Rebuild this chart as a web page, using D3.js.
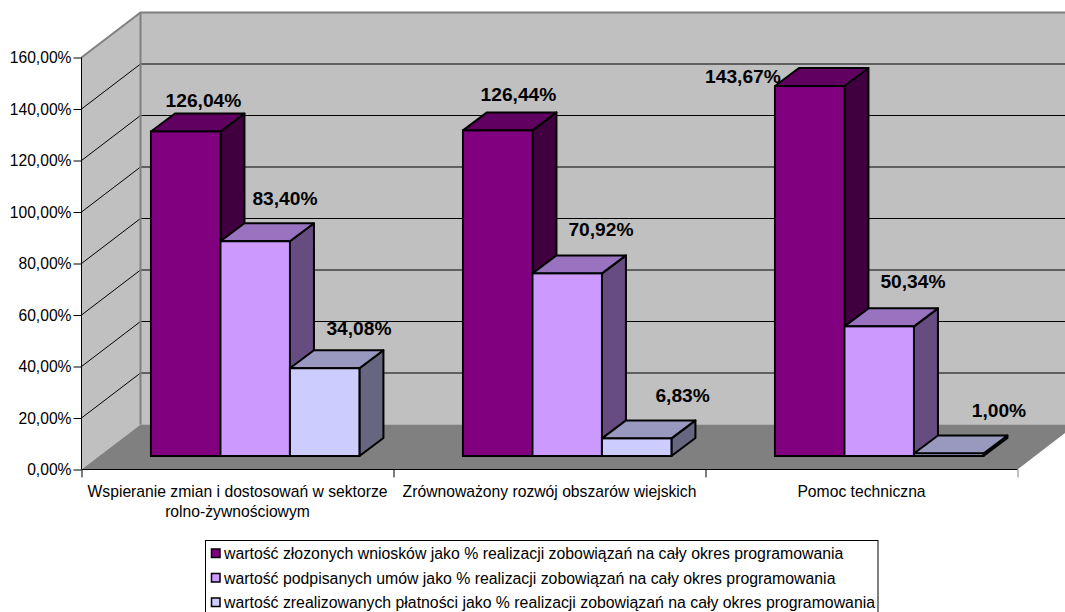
<!DOCTYPE html>
<html><head><meta charset="utf-8">
<script src="https://cdn.jsdelivr.net/npm/d3@7/dist/d3.min.js"></script>
<style>html,body{margin:0;padding:0;background:#fff;overflow:hidden}svg{display:block}text{font-family:"Liberation Sans",Arial,sans-serif;fill:#000}</style>
</head><body><svg id="c" width="1065" height="612"></svg>
<script>
const categories=["Wspieranie zmian i dostosowań w sektorze|rolno-żywnościowym","Zrównoważony rozwój obszarów wiejskich","Pomoc techniczna"];
const seriesNames=["wartość złozonych wniosków jako % realizacji zobowiązań na cały okres programowania","wartość podpisanych umów jako % realizacji zobowiązań na cały okres programowania","wartość zrealizowanych płatności jako % realizacji zobowiązań na cały okres programowania"];
const s1=[126.04,126.44,143.67];
const s2=[83.40,70.92,50.34];
const s3=[34.08,6.83,1.00];
const yTicks=[0,20,40,60,80,100,120,140,160];
const colors=["#800080","#CC99FF","#CCCCFF"];
const tops=["#600060","#9973BF","#9999BF"];
const sides=["#400040","#664C80","#666680"];
const series=[s1,s2,s3];
const fmt=v=>v.toFixed(2).replace(".",",")+"%";

const svg=d3.select("#c");
const x=d3.scaleBand().domain(d3.range(3)).range([81.5,1017.5]);
const y=d3.scaleLinear().domain([0,160]).range([469.5,57.5]);
const DX=59,DY=-45,bdx=24,bdy=-18,barBase=-13.5,barShift=17.7;
const inner=d3.scaleBand().domain(d3.range(3)).range([0,x.bandwidth()]).paddingInner(0).paddingOuter(0.745);
const W=1076;
const poly=(pts,f,st,sw)=>svg.append("polygon").attr("points",pts.map(p=>p.join(",")).join(" ")).attr("fill",f).attr("stroke",st||"none").attr("stroke-width",sw||0).attr("stroke-linejoin","round");

// walls and floor
const y0=y(0),yT=y(160),ax=x.range()[0];
poly([[ax,y0],[ax+DX,y0+DY],[ax+DX,yT+DY],[ax,yT]],"#C0C0C0");
poly([[ax+DX,y0+DY],[W,y0+DY],[W,yT+DY],[ax+DX,yT+DY]],"#C0C0C0");
poly([[ax,y0],[ax+DX,y0+DY],[W,y0+DY],[x.range()[1],y0]],"#808080");
// gridlines
yTicks.slice(1,-1).forEach(t=>{
  svg.append("path").attr("fill","none").attr("stroke","#000").attr("stroke-width",1)
   .attr("d",`M${ax},${y(t)}L${ax+DX},${y(t)+DY}L${W},${y(t)+DY}`);
});
// wall edges
svg.append("path").attr("fill","none").attr("stroke","#808080").attr("stroke-width",2)
 .attr("d",`M${ax},${yT}L${ax+DX},${yT+DY}L${W},${yT+DY}M${ax+DX},${yT+DY}L${ax+DX},${y0+DY}`);
// axes
svg.append("g").attr("transform",`translate(${ax},0)`)
 .call(d3.axisLeft(y).tickValues(yTicks).tickFormat(fmt).tickSize(8).tickPadding(2))
 .call(g=>{g.select(".domain").attr("stroke","#000").attr("d",`M0,${yT}V${y0}`);g.selectAll("line").attr("stroke","#000");g.selectAll("text").attr("font-size",15.65).attr("font-family",'"Liberation Sans"').attr("fill","#000")});
svg.append("g").attr("transform",`translate(0,${y0})`)
 .call(d3.axisBottom(d3.scaleLinear().domain([0,3]).range(x.range())).tickValues([0,1,2,3]).tickFormat("").tickSize(8))
 .call(g=>{g.select(".domain").attr("stroke","#000").attr("d",`M${ax},0H${x.range()[1]}`);g.selectAll("line").attr("stroke","#000");g.selectAll(".tick:last-of-type line").attr("stroke","#808080")});
// category labels
categories.forEach((c,i)=>{
  c.split("|").forEach((ln,k)=>svg.append("text").attr("x",x(i)+x.bandwidth()/2).attr("y",496.7+k*20).attr("text-anchor","middle").attr("font-size",15.7).text(ln));
});
// bars
categories.forEach((c,i)=>{
  series.forEach((s,j)=>{
    const bx=x(i)+barShift+inner(j), bw=inner.bandwidth(), v=s[i];
    const yb=y0+barBase, yt=y(v)+barBase;
    poly([[bx+bw,yt],[bx+bw+bdx,yt+bdy],[bx+bw+bdx,yb+bdy],[bx+bw,yb]],sides[j],"#000",2);
    poly([[bx,yt],[bx+bdx,yt+bdy],[bx+bw+bdx,yt+bdy],[bx+bw,yt]],tops[j],"#000",2);
    svg.append("rect").attr("x",bx).attr("y",yt).attr("width",bw).attr("height",yb-yt).attr("fill",colors[j]).attr("stroke","#000").attr("stroke-width",2);
  });
});
// value labels: placement offsets from each bar's top-left corner, by series then category
const labelDx=[[52.5,55.5,-32],[64.5,68.5,68.5],[69,80.7,85]];
const labelDy=[[-24.5,-29,-3],[-36.5,-37,-38],[-33.5,-36,-36.7]];
categories.forEach((c,i)=>{
  series.forEach((s,j)=>{
    const bx=x(i)+barShift+inner(j);
    svg.append("text").attr("x",bx+labelDx[j][i]).attr("y",y(s[i])+barBase+labelDy[j][i]).attr("text-anchor","middle").attr("font-size",19.2).attr("font-weight","bold").text(fmt(s[i]));
  });
});
// legend
svg.append("rect").attr("x",205.5).attr("y",540.5).attr("width",672.5).attr("height",80).attr("fill","#fff").attr("stroke","#000");
seriesNames.forEach((n,j)=>{
  const ly=553.5+j*24.5;
  svg.append("rect").attr("x",211.5).attr("y",ly-4.5).attr("width",8.5).attr("height",8.5).attr("fill",colors[j]).attr("stroke","#000").attr("stroke-width",1.5);
  svg.append("text").attr("x",224).attr("y",ly+5.8).attr("font-size",15.83).text(n);
});
</script></body></html>
